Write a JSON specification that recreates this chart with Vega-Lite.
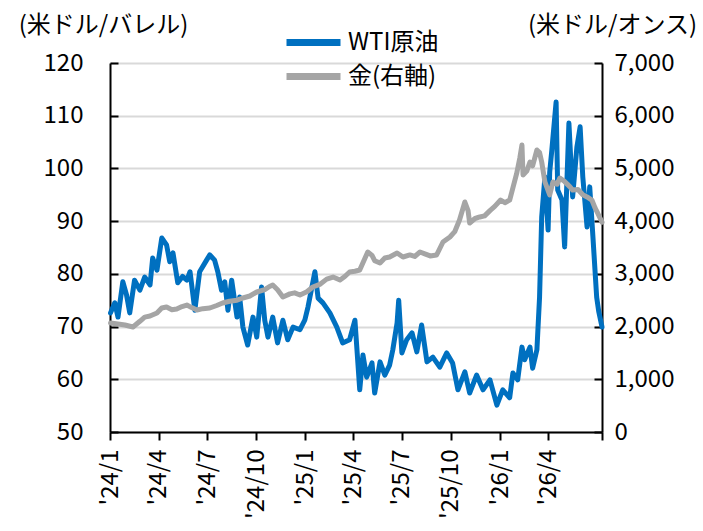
{
  "$schema": "https://vega.github.io/schema/vega-lite/v6.json",
  "width": 492,
  "height": 369,
  "autosize": {"type": "none"},
  "padding": {"left": 110, "top": 63, "right": 101, "bottom": 99},
  "background": "white",
  "config": {
    "font": "Noto Sans CJK JP",
    "view": {"stroke": null},
    "axis": {
      "labelFont": "Noto Sans CJK JP",
      "titleFont": "Noto Sans CJK JP",
      "labelColor": "#000000",
      "titleColor": "#000000",
      "titleFontWeight": "normal",
      "domainColor": "#000000",
      "tickColor": "#000000",
      "domainWidth": 2,
      "tickWidth": 2
    },
    "legend": {
      "labelFont": "Noto Sans CJK JP",
      "labelColor": "#000000"
    }
  },
  "datasets": {
    "wti": [
      {"date": "2024-01-02", "value": 72.6},
      {"date": "2024-01-10", "value": 74.5},
      {"date": "2024-01-16", "value": 71.8},
      {"date": "2024-01-25", "value": 78.5},
      {"date": "2024-02-01", "value": 76.0},
      {"date": "2024-02-07", "value": 72.6},
      {"date": "2024-02-16", "value": 78.8},
      {"date": "2024-02-26", "value": 76.9},
      {"date": "2024-03-06", "value": 79.4},
      {"date": "2024-03-16", "value": 77.9},
      {"date": "2024-03-21", "value": 83.0},
      {"date": "2024-03-29", "value": 80.7},
      {"date": "2024-04-07", "value": 86.8},
      {"date": "2024-04-16", "value": 85.5},
      {"date": "2024-04-22", "value": 82.3},
      {"date": "2024-04-28", "value": 84.0},
      {"date": "2024-05-07", "value": 78.3},
      {"date": "2024-05-16", "value": 79.5},
      {"date": "2024-05-24", "value": 78.8},
      {"date": "2024-05-30", "value": 80.4},
      {"date": "2024-06-08", "value": 73.1},
      {"date": "2024-06-17", "value": 80.4},
      {"date": "2024-06-30", "value": 82.6},
      {"date": "2024-07-06", "value": 83.6},
      {"date": "2024-07-15", "value": 82.6},
      {"date": "2024-07-21", "value": 80.4},
      {"date": "2024-07-28", "value": 76.9},
      {"date": "2024-08-03", "value": 78.5},
      {"date": "2024-08-09", "value": 73.1},
      {"date": "2024-08-16", "value": 78.8},
      {"date": "2024-08-26", "value": 71.8},
      {"date": "2024-08-31", "value": 75.6},
      {"date": "2024-09-06", "value": 69.9},
      {"date": "2024-09-15", "value": 66.5},
      {"date": "2024-09-25", "value": 71.8},
      {"date": "2024-10-02", "value": 68.0},
      {"date": "2024-10-11", "value": 77.5},
      {"date": "2024-10-17", "value": 71.2},
      {"date": "2024-10-23", "value": 68.0},
      {"date": "2024-11-01", "value": 71.8},
      {"date": "2024-11-10", "value": 66.9},
      {"date": "2024-11-20", "value": 71.2},
      {"date": "2024-11-29", "value": 67.5},
      {"date": "2024-12-09", "value": 69.9},
      {"date": "2024-12-22", "value": 69.4},
      {"date": "2024-12-31", "value": 71.2},
      {"date": "2025-01-06", "value": 73.7},
      {"date": "2025-01-19", "value": 80.4},
      {"date": "2025-01-25", "value": 75.4},
      {"date": "2025-02-03", "value": 74.5},
      {"date": "2025-02-16", "value": 72.6},
      {"date": "2025-03-01", "value": 69.9},
      {"date": "2025-03-12", "value": 66.9},
      {"date": "2025-03-25", "value": 67.5},
      {"date": "2025-04-04", "value": 71.2},
      {"date": "2025-04-13", "value": 58.0},
      {"date": "2025-04-19", "value": 64.6},
      {"date": "2025-04-26", "value": 60.4},
      {"date": "2025-05-06", "value": 63.1},
      {"date": "2025-05-11", "value": 57.4},
      {"date": "2025-05-21", "value": 63.3},
      {"date": "2025-05-30", "value": 60.8},
      {"date": "2025-06-08", "value": 62.7},
      {"date": "2025-06-14", "value": 65.6},
      {"date": "2025-06-22", "value": 70.7},
      {"date": "2025-06-25", "value": 75.0},
      {"date": "2025-07-01", "value": 65.0},
      {"date": "2025-07-10", "value": 67.5},
      {"date": "2025-07-20", "value": 68.8},
      {"date": "2025-07-29", "value": 65.2},
      {"date": "2025-08-07", "value": 70.3},
      {"date": "2025-08-17", "value": 63.3},
      {"date": "2025-08-28", "value": 64.2},
      {"date": "2025-09-10", "value": 62.3},
      {"date": "2025-09-23", "value": 65.0},
      {"date": "2025-10-04", "value": 63.1},
      {"date": "2025-10-14", "value": 58.0},
      {"date": "2025-10-27", "value": 61.4},
      {"date": "2025-11-05", "value": 57.4},
      {"date": "2025-11-18", "value": 60.8},
      {"date": "2025-11-30", "value": 58.0},
      {"date": "2025-12-13", "value": 59.9},
      {"date": "2025-12-26", "value": 55.1},
      {"date": "2026-01-06", "value": 58.0},
      {"date": "2026-01-19", "value": 56.5},
      {"date": "2026-01-25", "value": 61.2},
      {"date": "2026-02-03", "value": 59.9},
      {"date": "2026-02-11", "value": 66.1},
      {"date": "2026-02-16", "value": 63.7},
      {"date": "2026-02-26", "value": 66.1},
      {"date": "2026-03-03", "value": 62.1},
      {"date": "2026-03-11", "value": 65.6},
      {"date": "2026-03-16", "value": 75.6},
      {"date": "2026-03-20", "value": 90.8},
      {"date": "2026-03-26", "value": 98.4},
      {"date": "2026-04-01", "value": 88.3},
      {"date": "2026-04-04", "value": 99.3},
      {"date": "2026-04-08", "value": 103.5},
      {"date": "2026-04-16", "value": 112.6},
      {"date": "2026-04-19", "value": 95.9},
      {"date": "2026-04-27", "value": 94.0},
      {"date": "2026-05-02", "value": 85.1},
      {"date": "2026-05-10", "value": 108.6},
      {"date": "2026-05-17", "value": 94.6},
      {"date": "2026-05-25", "value": 104.1},
      {"date": "2026-05-31", "value": 107.9},
      {"date": "2026-06-05", "value": 98.4},
      {"date": "2026-06-13", "value": 88.9},
      {"date": "2026-06-18", "value": 96.5},
      {"date": "2026-06-24", "value": 87.0},
      {"date": "2026-07-01", "value": 75.6},
      {"date": "2026-07-05", "value": 72.8},
      {"date": "2026-07-11", "value": 69.9}
    ],
    "gold": [
      {"date": "2024-01-02", "value": 2068},
      {"date": "2024-01-16", "value": 2050},
      {"date": "2024-01-29", "value": 2030},
      {"date": "2024-02-13", "value": 1992},
      {"date": "2024-02-26", "value": 2100},
      {"date": "2024-03-06", "value": 2180},
      {"date": "2024-03-16", "value": 2200},
      {"date": "2024-03-29", "value": 2257},
      {"date": "2024-04-07", "value": 2352},
      {"date": "2024-04-16", "value": 2371},
      {"date": "2024-04-26", "value": 2320},
      {"date": "2024-05-05", "value": 2333},
      {"date": "2024-05-15", "value": 2380},
      {"date": "2024-05-24", "value": 2409},
      {"date": "2024-06-02", "value": 2360},
      {"date": "2024-06-12", "value": 2314},
      {"date": "2024-06-23", "value": 2340},
      {"date": "2024-07-06", "value": 2352},
      {"date": "2024-07-19", "value": 2400},
      {"date": "2024-07-30", "value": 2447},
      {"date": "2024-08-12", "value": 2480},
      {"date": "2024-08-26", "value": 2500},
      {"date": "2024-09-06", "value": 2542},
      {"date": "2024-09-19", "value": 2580},
      {"date": "2024-10-02", "value": 2656},
      {"date": "2024-10-17", "value": 2700},
      {"date": "2024-10-26", "value": 2760},
      {"date": "2024-11-01", "value": 2789},
      {"date": "2024-11-10", "value": 2700},
      {"date": "2024-11-20", "value": 2561},
      {"date": "2024-12-03", "value": 2620},
      {"date": "2024-12-12", "value": 2640},
      {"date": "2024-12-22", "value": 2599},
      {"date": "2025-01-04", "value": 2660},
      {"date": "2025-01-15", "value": 2751},
      {"date": "2025-01-28", "value": 2800},
      {"date": "2025-02-10", "value": 2900},
      {"date": "2025-02-22", "value": 2940},
      {"date": "2025-03-07", "value": 2883},
      {"date": "2025-03-16", "value": 2950},
      {"date": "2025-03-25", "value": 3035},
      {"date": "2025-04-04", "value": 3050},
      {"date": "2025-04-13", "value": 3073},
      {"date": "2025-04-23", "value": 3300},
      {"date": "2025-04-28", "value": 3415},
      {"date": "2025-05-06", "value": 3350},
      {"date": "2025-05-11", "value": 3250},
      {"date": "2025-05-21", "value": 3206},
      {"date": "2025-05-30", "value": 3300},
      {"date": "2025-06-08", "value": 3320},
      {"date": "2025-06-22", "value": 3396},
      {"date": "2025-07-03", "value": 3320},
      {"date": "2025-07-16", "value": 3360},
      {"date": "2025-07-25", "value": 3330},
      {"date": "2025-08-04", "value": 3415},
      {"date": "2025-08-13", "value": 3380},
      {"date": "2025-08-23", "value": 3340},
      {"date": "2025-09-04", "value": 3358},
      {"date": "2025-09-16", "value": 3604},
      {"date": "2025-09-29", "value": 3700},
      {"date": "2025-10-08", "value": 3800},
      {"date": "2025-10-17", "value": 4022},
      {"date": "2025-10-27", "value": 4363},
      {"date": "2025-11-02", "value": 4200},
      {"date": "2025-11-05", "value": 3965},
      {"date": "2025-11-15", "value": 4050},
      {"date": "2025-11-24", "value": 4079},
      {"date": "2025-12-03", "value": 4100},
      {"date": "2025-12-13", "value": 4200},
      {"date": "2025-12-22", "value": 4280},
      {"date": "2026-01-02", "value": 4401},
      {"date": "2026-01-10", "value": 4350},
      {"date": "2026-01-19", "value": 4400},
      {"date": "2026-01-25", "value": 4630},
      {"date": "2026-02-01", "value": 4900},
      {"date": "2026-02-07", "value": 5200},
      {"date": "2026-02-11", "value": 5445},
      {"date": "2026-02-13", "value": 4875},
      {"date": "2026-02-20", "value": 4950},
      {"date": "2026-02-26", "value": 5122},
      {"date": "2026-03-03", "value": 5050},
      {"date": "2026-03-11", "value": 5350},
      {"date": "2026-03-16", "value": 5300},
      {"date": "2026-03-20", "value": 5122},
      {"date": "2026-03-26", "value": 4743},
      {"date": "2026-04-04", "value": 4496},
      {"date": "2026-04-10", "value": 4743},
      {"date": "2026-04-18", "value": 4700},
      {"date": "2026-04-23", "value": 4818},
      {"date": "2026-05-02", "value": 4750},
      {"date": "2026-05-12", "value": 4650},
      {"date": "2026-05-17", "value": 4590},
      {"date": "2026-05-27", "value": 4600},
      {"date": "2026-06-05", "value": 4500},
      {"date": "2026-06-13", "value": 4460},
      {"date": "2026-06-22", "value": 4400},
      {"date": "2026-06-28", "value": 4250},
      {"date": "2026-07-03", "value": 4150},
      {"date": "2026-07-11", "value": 3980}
    ]
  },
  "layer": [
    {
      "data": {"name": "wti"},
      "mark": {"type": "line", "strokeWidth": 5, "strokeJoin": "round", "strokeCap": "round"},
      "encoding": {
        "x": {
          "field": "date",
          "type": "temporal",
          "scale": {
            "type": "utc",
            "domain": [
              {"year": 2024, "month": 1, "date": 1, "utc": true},
              {"year": 2026, "month": 7, "date": 11, "utc": true}
            ]
          },
          "axis": {
            "orient": "bottom",
            "title": null,
            "grid": false,
            "values": [
              {"year": 2024, "month": 1, "date": 1, "utc": true},
              {"year": 2024, "month": 4, "date": 1, "utc": true},
              {"year": 2024, "month": 7, "date": 1, "utc": true},
              {"year": 2024, "month": 10, "date": 1, "utc": true},
              {"year": 2025, "month": 1, "date": 1, "utc": true},
              {"year": 2025, "month": 4, "date": 1, "utc": true},
              {"year": 2025, "month": 7, "date": 1, "utc": true},
              {"year": 2025, "month": 10, "date": 1, "utc": true},
              {"year": 2026, "month": 1, "date": 1, "utc": true},
              {"year": 2026, "month": 4, "date": 1, "utc": true},
              {"year": 2026, "month": 7, "date": 11, "utc": true}
            ],
            "labelExpr": "utcdate(datum.value) == 1 ? \"'\" + utcFormat(datum.value, '%y/%-m') : ''",
            "labelAngle": 270,
            "labelAlign": "right",
            "labelBaseline": "middle",
            "labelFontSize": 24,
            "labelPadding": 9,
            "tickSize": 8,
            "labelOverlap": false,
            "labelFlush": false
          }
        },
        "y": {
          "field": "value",
          "type": "quantitative",
          "scale": {"domain": [50, 120], "nice": false, "zero": false},
          "axis": {
            "orient": "left",
            "values": [50, 60, 70, 80, 90, 100, 110, 120],
            "title": "(米ドル/バレル)",
            "titleAngle": 0,
            "titleX": -7,
            "titleY": -38,
            "titleAlign": "center",
            "titleBaseline": "middle",
            "titleFontSize": 24,
            "labelFontSize": 24,
            "tickSize": -8,
            "labelPadding": 35,
            "grid": true,
            "gridColor": "#D9D9D9",
            "gridWidth": 2,
            "labelFlush": false
          }
        },
        "color": {
          "datum": "WTI原油",
          "scale": {"range": ["#0070C0"]},
          "legend": {
            "orient": "none",
            "legendX": 173,
            "legendY": -51,
            "title": null,
            "symbolType": "stroke",
            "symbolSize": 2916,
            "symbolStrokeWidth": 7,
            "labelFontSize": 24,
            "labelOffset": 4,
            "padding": 0
          }
        }
      }
    },
    {
      "data": {"name": "gold"},
      "mark": {"type": "line", "strokeWidth": 5, "strokeJoin": "round", "strokeCap": "round"},
      "encoding": {
        "x": {"field": "date", "type": "temporal"},
        "y": {
          "field": "value",
          "type": "quantitative",
          "scale": {"domain": [0, 7000], "nice": false},
          "axis": {
            "orient": "right",
            "values": [0, 1000, 2000, 3000, 4000, 5000, 6000, 7000],
            "format": ",d",
            "title": "(米ドル/オンス)",
            "titleAngle": 0,
            "titleX": 10,
            "titleY": -38,
            "titleAlign": "center",
            "titleBaseline": "middle",
            "titleFontSize": 24,
            "labelFontSize": 24,
            "tickSize": -8,
            "labelPadding": 20,
            "grid": false,
            "labelFlush": false
          }
        },
        "color": {
          "datum": "金(右軸)",
          "scale": {"range": ["#A5A5A5"]},
          "legend": {
            "orient": "none",
            "legendX": 173,
            "legendY": -17,
            "title": null,
            "symbolType": "stroke",
            "symbolSize": 2916,
            "symbolStrokeWidth": 7,
            "labelFontSize": 24,
            "labelOffset": 4,
            "padding": 0
          }
        }
      }
    }
  ],
  "resolve": {"scale": {"y": "independent", "color": "independent"}}
}
